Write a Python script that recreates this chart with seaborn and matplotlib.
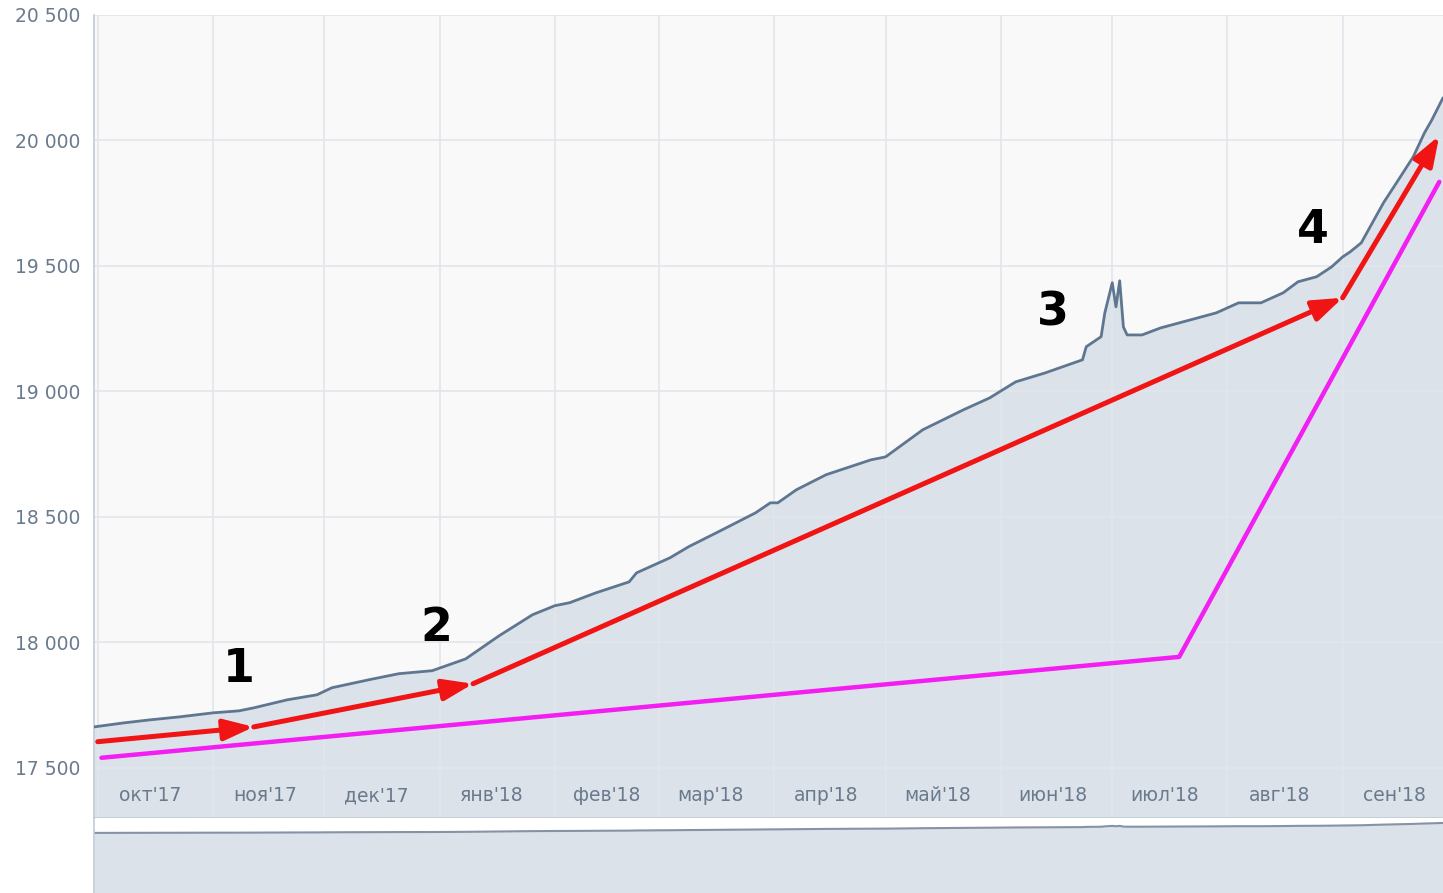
import pandas as pd
import numpy as np
import matplotlib
matplotlib.use('Agg')
import matplotlib.pyplot as plt
import matplotlib.dates as mdates
import seaborn as sns

# основной ряд
dates = ['2017-09-30', '2017-10-08', '2017-10-15', '2017-10-23', '2017-11-01', '2017-11-08',
         '2017-11-12', '2017-11-21', '2017-11-29', '2017-12-03', '2017-12-13', '2017-12-21',
         '2017-12-30', '2018-01-08', '2018-01-17', '2018-01-26', '2018-02-01', '2018-02-05',
         '2018-02-12', '2018-02-21', '2018-02-23', '2018-03-04', '2018-03-09', '2018-03-18',
         '2018-03-27', '2018-03-31', '2018-04-02', '2018-04-07', '2018-04-15', '2018-04-27',
         '2018-05-01', '2018-05-11', '2018-05-22', '2018-05-29', '2018-06-05', '2018-06-13',
         '2018-06-23', '2018-06-24', '2018-06-28', '2018-06-29', '2018-07-01', '2018-07-02',
         '2018-07-03', '2018-07-04', '2018-07-05', '2018-07-09', '2018-07-14', '2018-07-20',
         '2018-07-29', '2018-08-04', '2018-08-10', '2018-08-16', '2018-08-20', '2018-08-25',
         '2018-08-29', '2018-09-01', '2018-09-03', '2018-09-06', '2018-09-09', '2018-09-12',
         '2018-09-16', '2018-09-20', '2018-09-23', '2018-09-25', '2018-09-28']
values = [17663, 17679, 17691, 17703, 17719, 17727,
          17739, 17771, 17791, 17819, 17851, 17875,
          17887, 17934, 18026, 18110, 18146, 18158,
          18197, 18241, 18277, 18337, 18381, 18448,
          18516, 18556, 18556, 18608, 18668, 18727,
          18739, 18847, 18927, 18974, 19038, 19074,
          19126, 19178, 19218, 19313, 19433, 19337,
          19441, 19257, 19225, 19225, 19253, 19277,
          19313, 19353, 19353, 19393, 19437, 19457,
          19496, 19536, 19556, 19592, 19672, 19752,
          19843, 19935, 20030, 20082, 20170]

# красные стрелки
arrow_dates = ['2017-10-01', '2017-11-12', '2018-01-10', '2018-09-01', '2018-09-27']
arrow_values = [17604, 17663, 17835, 19373, 20019]

# розовая линия
pink_dates = ['2017-10-02', '2018-07-19', '2018-09-27']
pink_values = [17540, 17942, 19835]

# цифры-метки
mark_text = ['1', '2', '3', '4']
mark_dates = ['2017-11-08', '2017-12-31', '2018-06-15', '2018-08-24']
mark_values = [17843, 18006, 19261, 19592]

month_labels = ["окт'17", "ноя'17", "дек'17", "янв'18", "фев'18", "мар'18",
                "апр'18", "май'18", "июн'18", "июл'18", "авг'18", "сен'18"]
y_ticks = [17500, 18000, 18500, 19000, 19500, 20000, 20500]
y_tick_labels = ['17 500', '18 000', '18 500', '19 000', '19 500', '20 000', '20 500']

fill_col = '#dbe2ea'
line_col = '#5f7690'
grid_col = '#e2e6eb'
text_col = '#6a7a8d'
spine_col = '#c3cbd5'

sns.set_style('white')
plt.rcParams['font.family'] = ['DejaVu Sans']

df = pd.DataFrame({'date': pd.to_datetime(dates), 'value': values})
x_num = mdates.date2num(df['date'])
y_min, y_max = 17300, 20500
x_lim = (mdates.date2num(pd.Timestamp('2017-09-30')), mdates.date2num(pd.Timestamp('2018-09-28')))

fig = plt.figure(figsize=(14.43, 8.93), dpi=100)
ax = fig.add_axes([94 / 1443, 75 / 893, 1 - 94 / 1443, 803 / 893])
ax.set_facecolor('#f9f9fa')

ax.fill_between(x_num, df['value'], y_min, color=fill_col, lw=0, zorder=1)
sns.lineplot(x=x_num, y=df['value'], ax=ax, color=line_col, lw=2.0, zorder=3)
sns.lineplot(x=mdates.date2num(pd.to_datetime(pink_dates)), y=pink_values, ax=ax,
             color='#f21ef2', lw=3.2, zorder=4)

a_num = mdates.date2num(pd.to_datetime(arrow_dates))
for i in range(len(a_num) - 1):
    ax.annotate('', xy=(a_num[i + 1], arrow_values[i + 1]), xytext=(a_num[i], arrow_values[i]),
                arrowprops=dict(arrowstyle='-|>,head_length=0.9,head_width=0.32',
                                color='#f01414', lw=3.6, shrinkA=0, shrinkB=0,
                                mutation_scale=20),
                zorder=5)

m_num = mdates.date2num(pd.to_datetime(mark_dates))
for t, xm, ym in zip(mark_text, m_num, mark_values):
    ax.text(xm, ym, t, fontsize=33, fontweight='bold', ha='center', va='baseline',
            color='black', zorder=6)

ax.set_xlim(*x_lim)
ax.set_ylim(y_min, y_max)
ax.set_xlabel('')
ax.set_ylabel('')

month_starts = pd.date_range('2017-10-01', '2018-09-01', freq='MS')
ax.set_xticks(mdates.date2num(month_starts))
ax.set_xticklabels([])
ax.set_xticks(mdates.date2num(month_starts + pd.Timedelta(days=14)), month_labels, minor=True)
ax.tick_params(axis='x', which='both', length=0)
ax.tick_params(axis='x', which='minor', pad=-23, labelsize=13.5, labelcolor=text_col)
ax.set_yticks(y_ticks, y_tick_labels)
ax.tick_params(axis='y', length=0, pad=10, labelsize=13.5, labelcolor=text_col)

ax.set_axisbelow('line')
ax.grid(True, which='major', color=grid_col, lw=1.2)
for s in ['top', 'right']:
    ax.spines[s].set_visible(False)
for s in ['left', 'bottom']:
    ax.spines[s].set_color(spine_col)
    ax.spines[s].set_linewidth(1.2)

# навигатор снизу
nav = fig.add_axes([94 / 1443, 0, 1 - 94 / 1443, 75 / 893])
nav.set_facecolor('white')
nav_min = 2520
nav.fill_between(x_num, df['value'], nav_min, color=fill_col, lw=0)
nav.plot(x_num, df['value'], color='#8593a5', lw=1.5)
nav.set_xlim(*x_lim)
nav.set_ylim(nav_min, 21420)
nav.set_xticks([])
nav.set_yticks([])
for s in ['top', 'right', 'bottom']:
    nav.spines[s].set_visible(False)
nav.spines['left'].set_color(spine_col)
nav.spines['left'].set_linewidth(1.2)

plt.savefig('out.png', dpi=100)
plt.close()
